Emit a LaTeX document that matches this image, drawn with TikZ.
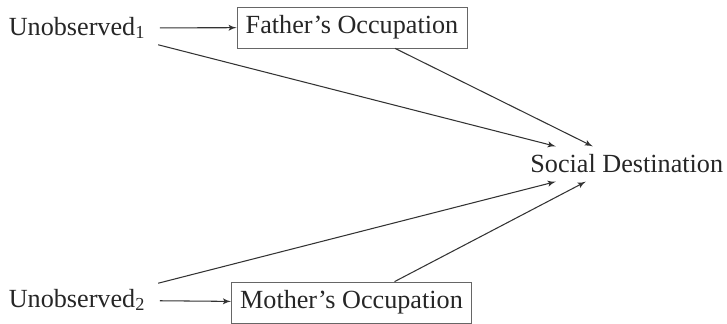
\documentclass[tikz,border=0pt]{standalone}
\usepackage{fontspec}
\setmainfont{Liberation Serif}
\usetikzlibrary{arrows}
\tikzset{
  var/.style = {inner sep=3pt, text centered, text=black!85,
    font=\fontsize{14.9}{17}\selectfont},% plain text variable
  obs/.style = {var, rectangle, draw=black!60, thin, inner xsep=5pt,
    minimum height=0.82cm}% observed variable (box)
}

\begin{document}
\begin{tikzpicture}[->,>=latex',x=0.02cm,y=-0.02cm,line width=0.6pt,
  draw=black!80]
\useasboundingbox (0,0) rectangle (727,324);
\node [var, anchor=west] (u1) at (3,28) {Unobserved\textsubscript{1}};
\node [obs] (fo) at (352,27.5) {Father's Occupation};
\node [var, anchor=west] (u2) at (3,300) {Unobserved\textsubscript{2}};
\node [obs] (mo) at (351.5,302.5) {Mother's Occupation};
\node [var, anchor=west, inner sep=4.5pt] (sd) at (522,164) {Social Destination};

\draw [shorten <=5pt] (u1) -- (fo);
\draw [shorten <=5pt] (u2) -- (mo);
\draw ([xshift=4pt]u1.south east) -- ([xshift=-1.42cm]sd.north);
\draw ([xshift=0.86cm]fo.south) -- ([xshift=-0.68cm]sd.north);
\draw ([xshift=4pt]u2.north east) -- ([xshift=-1.42cm]sd.south);
\draw ([xshift=0.86cm]mo.north) -- ([xshift=-0.82cm]sd.south);
\end{tikzpicture}
\end{document}
